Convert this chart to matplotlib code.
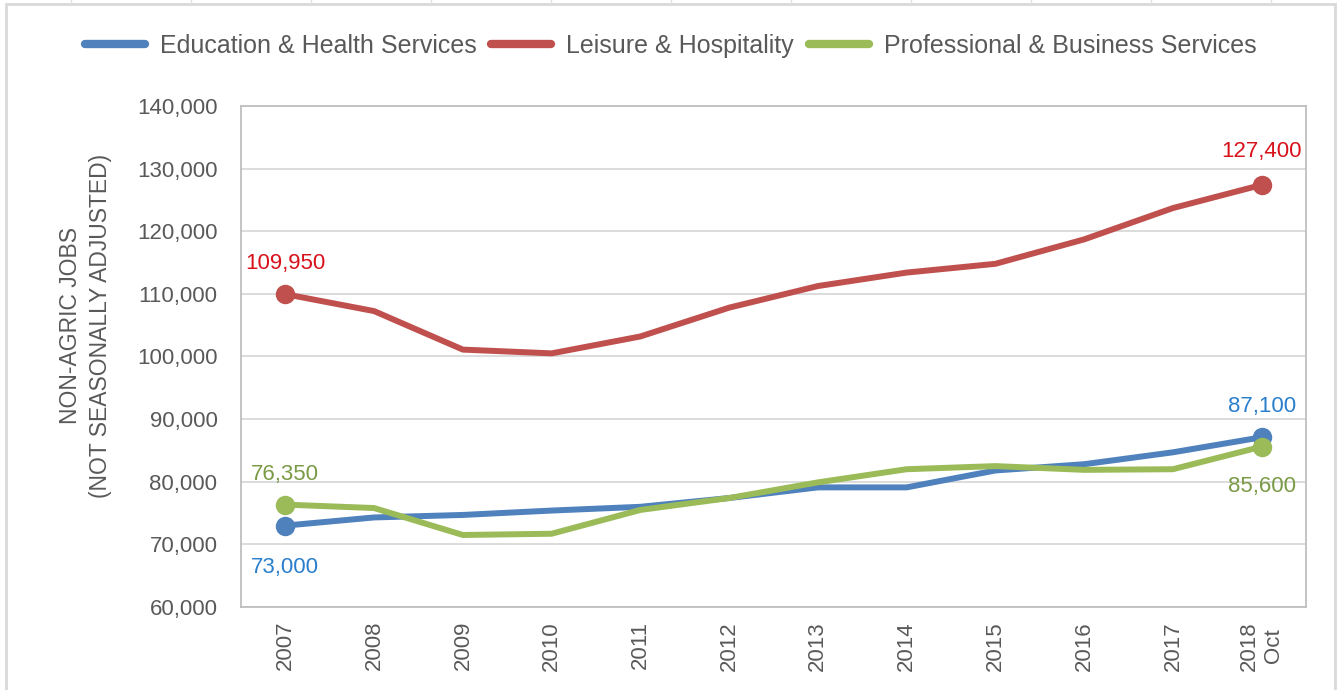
import matplotlib
matplotlib.use("Agg")
import matplotlib.pyplot as plt
from matplotlib.ticker import FuncFormatter
from matplotlib.patches import Rectangle
from matplotlib.lines import Line2D

plt.rcParams['font.family'] = ['Liberation Sans', 'DejaVu Sans']

years = ['2007', '2008', '2009', '2010', '2011', '2012',
         '2013', '2014', '2015', '2016', '2017', '2018\nOct']
education = [73000, 74300, 74700, 75400, 76000, 77400,
             79100, 79100, 81800, 82800, 84700, 87100]
leisure = [109950, 107250, 101100, 100500, 103200, 107800,
           111250, 113400, 114800, 118700, 123700, 127400]
professional = [76350, 75800, 71500, 71700, 75500, 77400,
                79900, 82000, 82500, 81900, 82000, 85600]
series_names = ['Education & Health Services', 'Leisure & Hospitality',
                'Professional & Business Services']
yticks = list(range(60000, 140001, 10000))

line_colors = ['#4f81bd', '#c0504d', '#9bbb59']
label_colors = ['#2a7fcc', '#d8121b', '#7a9a45']
text_gray = '#595959'

fig = plt.figure(figsize=(13.41, 6.90), dpi=100)
W, H = 1341, 690

# outer chart frame + faint spreadsheet grid above it
fig.patches.append(Rectangle((6 / W, -0.01), (1335 - 6) / W, (H - 4) / H + 0.01,
                             transform=fig.transFigure, fill=False,
                             edgecolor='#d9d9d9', linewidth=2))
for gx in range(71, 1341, 120):
    fig.add_artist(Line2D([gx / W, gx / W], [(H - 3) / H, 1.0],
                          transform=fig.transFigure, color='#e2e2e2', linewidth=1))

ax = fig.add_axes([241 / W, (H - 607) / H, (1306 - 241) / W, (607 - 106) / H])
x = list(range(len(years)))
all_series = [education, leisure, professional]

for vals, name, c in zip(all_series, series_names, line_colors):
    ax.plot(x, vals, color=c, linewidth=4.3, solid_capstyle='round',
            marker='o', markersize=13, markevery=[0, len(vals) - 1], zorder=3)

ax.set_xlim(-0.5, len(years) - 0.5)
ax.set_ylim(60000, 140000)
ax.set_yticks(yticks)
ax.yaxis.set_major_formatter(FuncFormatter(lambda v, p: f'{int(v):,}'))
ax.set_xticks(x)
ax.set_xticklabels(years, rotation=90, ha='center', va='top', multialignment='center')
ax.tick_params(axis='both', length=0, labelsize=16, labelcolor=text_gray)
ax.tick_params(axis='y', pad=17)
ax.tick_params(axis='x', pad=10)
ax.grid(axis='y', color='#d9d9d9', linewidth=1.3)
ax.set_axisbelow(True)
for s in ax.spines.values():
    s.set_color('#bfbfbf')
    s.set_linewidth(1.3)

ax.set_ylabel('NON-AGRIC JOBS\n(NOT SEASONALLY ADJUSTED)', fontsize=16.5,
              color=text_gray, linespacing=1.4)
ax.yaxis.set_label_coords(-0.121, 0.561)

# data labels for first and last points
offsets = [(-30, 22), (22, 24), (22, -29)]
for vals, c, (dy0, dy1) in zip(all_series, label_colors, offsets):
    ax.annotate(f'{vals[0]:,}', (0, vals[0]), xytext=(0, dy0), textcoords='offset points',
                ha='center', va='center', fontsize=16, color=c)
    ax.annotate(f'{vals[-1]:,}', (len(vals) - 1, vals[-1]), xytext=(0, dy1),
                textcoords='offset points', ha='center', va='center', fontsize=16, color=c)

handles = [Line2D([], [], color=c, linewidth=6, solid_capstyle='round') for c in line_colors]
fig.legend(handles, series_names, loc='center', bbox_to_anchor=(0.5, 1 - 46 / H), ncol=3,
           frameon=False, fontsize=18, handlelength=2.4, handletextpad=0.6,
           columnspacing=0.6, labelcolor=text_gray)

fig.savefig('out.png', dpi=100)
